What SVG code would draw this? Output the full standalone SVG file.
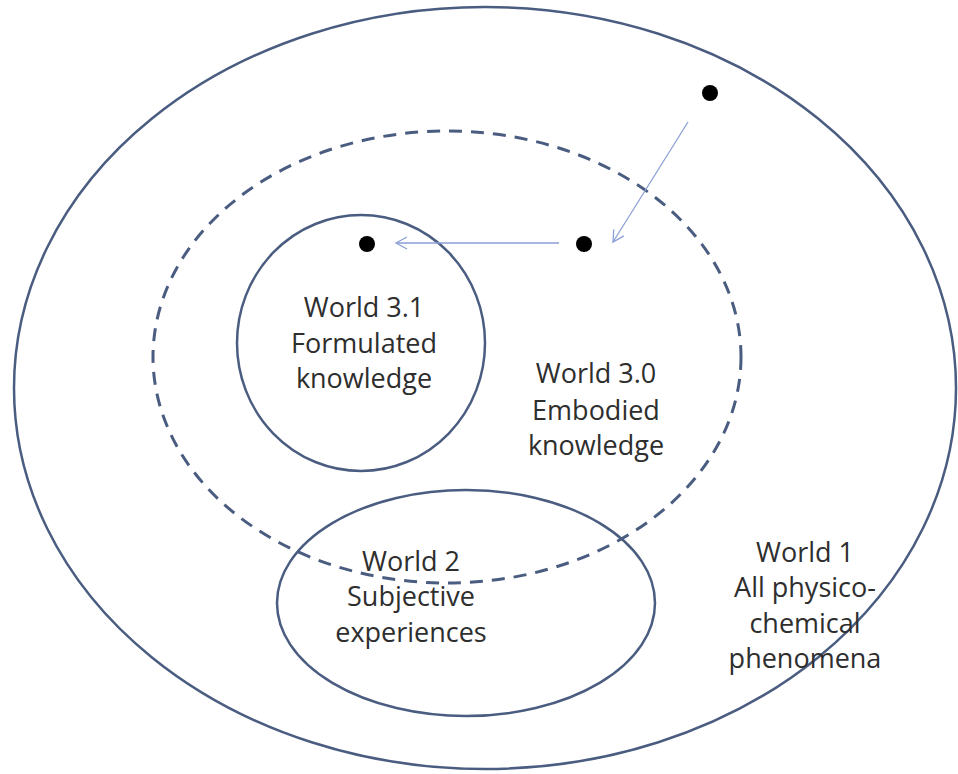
<svg xmlns="http://www.w3.org/2000/svg" width="958" height="774" viewBox="0 0 958 774">
<defs>
<style>
.sh{fill:none;stroke:#4a5d80;stroke-width:2.5}
.dash{fill:none;stroke:#4a5d80;stroke-width:3;stroke-dasharray:13 9}
.t{font-family:"Open Sans","Liberation Sans",sans-serif;font-size:27px;fill:#2e2e2e;text-anchor:middle}
.ar{stroke:#8a9fd4;stroke-width:1.3;fill:none}
.dot{fill:#000}
</style>
<marker id="ah" markerWidth="14" markerHeight="14" refX="12" refY="7" orient="auto" markerUnits="userSpaceOnUse">
<path d="M1,1 L12,7 L1,13" fill="none" stroke="#8a9fd4" stroke-width="1.3"/>
</marker>
</defs>
<rect width="958" height="774" fill="#fff"/>
<g id="world1">
<ellipse class="sh" cx="485" cy="388" rx="471" ry="381"/>
<text class="t" x="805" y="562">World 1</text>
<text class="t" x="805" y="597">All physico-</text>
<text class="t" x="805" y="633">chemical</text>
<text class="t" x="805" y="668">phenomena</text>
</g>
<g id="world30">
<ellipse class="dash" cx="447" cy="357" rx="294" ry="226"/>
<text class="t" x="596" y="383">World 3.0</text>
<text class="t" x="596" y="420">Embodied</text>
<text class="t" x="596" y="455">knowledge</text>
</g>
<g id="world31">
<ellipse class="sh" cx="361" cy="343" rx="124" ry="128"/>
<text class="t" x="364" y="317">World 3.1</text>
<text class="t" x="364" y="353">Formulated</text>
<text class="t" x="364" y="388">knowledge</text>
</g>
<g id="world2">
<ellipse class="sh" cx="466" cy="603" rx="189" ry="113"/>
<text class="t" x="411" y="571">World 2</text>
<text class="t" x="411" y="606">Subjective</text>
<text class="t" x="411" y="642">experiences</text>
</g>
<g id="dots">
<circle class="dot" cx="710" cy="93" r="8"/>
<circle class="dot" cx="584" cy="244" r="8"/>
<circle class="dot" cx="367" cy="244" r="8"/>
</g>
<g id="connectors">
<line class="ar" x1="688" y1="122" x2="613" y2="242" marker-end="url(#ah)"/>
<line class="ar" x1="559" y1="243" x2="396" y2="243" marker-end="url(#ah)"/>
</g>
</svg>
